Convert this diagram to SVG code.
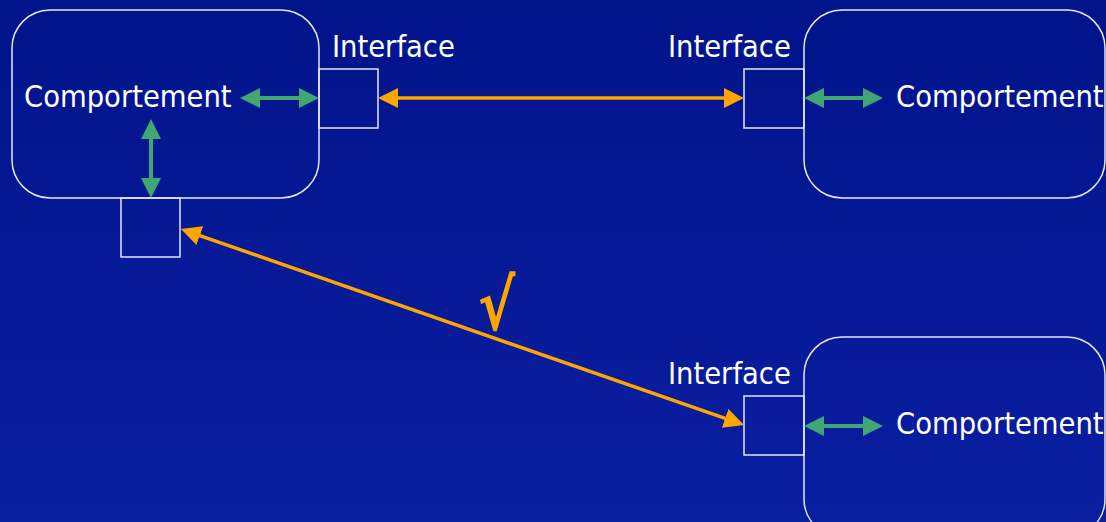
<svg xmlns="http://www.w3.org/2000/svg" width="1106" height="522" viewBox="0 0 1106 522">
<defs>
<linearGradient id="bg" x1="0" y1="0" x2="0" y2="1">
<stop offset="0" stop-color="#02148a"/>
<stop offset="1" stop-color="#0a1ea2"/>
</linearGradient>
<marker id="ag" viewBox="0 0 20 20" refX="10" refY="10" markerWidth="20" markerHeight="20" markerUnits="userSpaceOnUse" orient="auto-start-reverse">
<path d="M0,0 L20,10 L0,20 z" fill="#3fa674"/>
</marker>
<marker id="ao" viewBox="0 0 20 20" refX="10" refY="10" markerWidth="20" markerHeight="20" markerUnits="userSpaceOnUse" orient="auto-start-reverse">
<path d="M0,0 L20,10 L0,20 z" fill="#ffa500"/>
</marker>
</defs>
<style>
.box{fill:none;stroke:#e6e6f0;stroke-width:1.5}
.lbl{font-family:"DejaVu Sans Condensed","DejaVu Sans",sans-serif;font-size:30.5px;fill:#ffffff}
.g{stroke:#3fa674;stroke-width:4;fill:none;marker-start:url(#ag);marker-end:url(#ag)}
.o{stroke:#ffa500;stroke-width:3.5;fill:none;marker-start:url(#ao);marker-end:url(#ao)}
</style>
<rect width="1106" height="522" fill="url(#bg)"/>
<g id="comp1">
<rect class="box" x="12" y="10" width="307" height="188" rx="38"/>
<text class="lbl" x="24" y="107">Comportement</text>
</g>
<g id="iface1">
<rect class="box" x="319" y="69" width="59" height="59"/>
<text class="lbl" x="332" y="57">Interface</text>
</g>
<g id="iface1b">
<rect class="box" x="121" y="198" width="59" height="59"/>
</g>
<g id="comp2">
<rect class="box" x="804" y="10" width="301" height="188" rx="38"/>
<text class="lbl" x="896" y="107">Comportement</text>
</g>
<g id="iface2">
<rect class="box" x="744" y="69" width="60" height="59"/>
<text class="lbl" x="668" y="57">Interface</text>
</g>
<g id="comp3">
<rect class="box" x="804" y="337" width="301" height="200" rx="38"/>
<text class="lbl" x="896" y="434">Comportement</text>
</g>
<g id="iface3">
<rect class="box" x="744" y="396" width="60" height="59"/>
<text class="lbl" x="668" y="384">Interface</text>
</g>
<g id="connectors">
<line class="g" x1="250" y1="98" x2="309" y2="98"/>
<line class="g" x1="151" y1="129" x2="151" y2="188"/>
<line class="g" x1="814" y1="98" x2="873" y2="98"/>
<line class="g" x1="814" y1="426" x2="873" y2="426"/>
<line class="o" x1="388" y1="98" x2="734" y2="98"/>
<line class="o" x1="190.4" y1="232.3" x2="734.6" y2="421.7"/>
<text transform="translate(478,330) scale(0.8,1)" x="0" y="0" font-family="DejaVu Sans, sans-serif" font-weight="bold" font-size="70" fill="#ffa500">√</text>
</g>
</svg>
